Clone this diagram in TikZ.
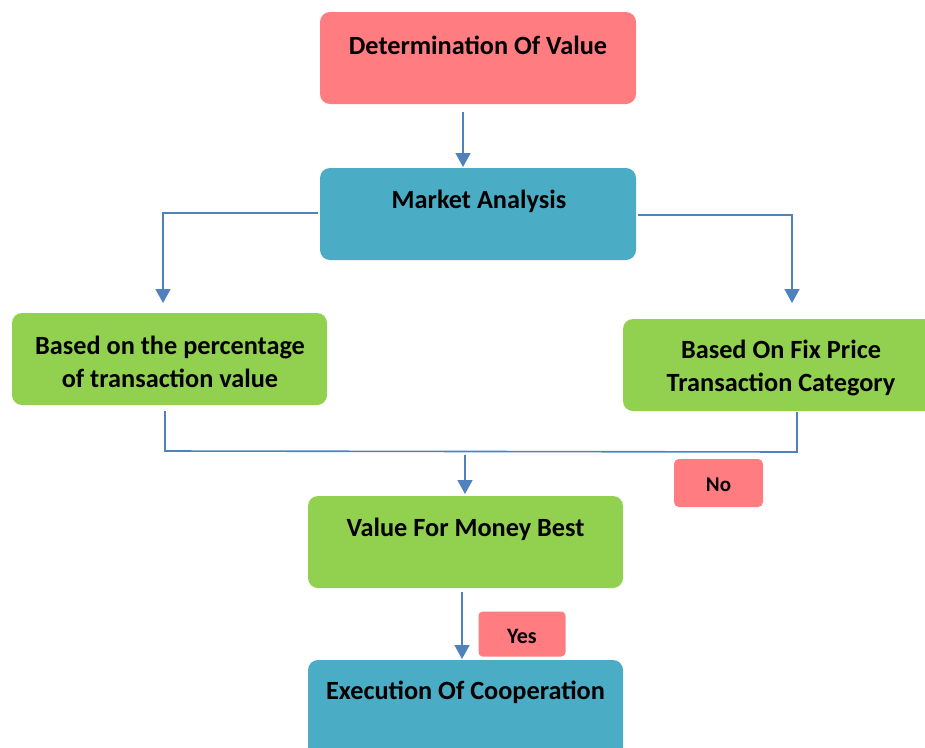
\documentclass[tikz,border=0pt]{standalone}
\usepackage{fontspec}
\setmainfont{Carlito}
\usetikzlibrary{arrows.meta}
\definecolor{salmon}{HTML}{FF7C80}
\definecolor{teal}{HTML}{4BACC6}
\definecolor{lgreen}{HTML}{92D050}
\definecolor{lblue}{HTML}{4F81BD}
\tikzset{
  box/.style={rectangle, rounded corners=10pt, draw=none, inner sep=0pt},
  txt/.style={font=\fontsize{26.3}{33}\selectfont\bfseries, text=black, align=center, inner sep=0pt},
  conn/.style={draw=lblue, line width=1.6pt},
  arr/.style={conn, -{Triangle[length=14pt,width=15pt]}}
}
\begin{document}
\begin{tikzpicture}[x=1pt,y=-1pt]
\useasboundingbox (0,0) rectangle (925,747);
% boxes
\node[box, fill=salmon, minimum width=316pt, minimum height=92pt] (dov) at (478,58) {};
\node[txt] (dovt) at (478,45) {Determination Of Value};
\node[box, fill=teal, minimum width=316pt, minimum height=92pt] (ma) at (478,214) {};
\node[txt] (mat) at (479,201) {Market Analysis};
\node[box, fill=lgreen, minimum width=315pt, minimum height=92pt] (pct) at (169.5,359) {};
\node[txt] (pctt) at (170,362) {Based on the percentage\\of transaction value};
\node[box, fill=lgreen, minimum width=320pt, minimum height=92pt] (fix) at (783,365) {};
\node[txt] (fixt) at (781,368) {Based On Fix Price\\Transaction Category};
\node[box, fill=lgreen, minimum width=315pt, minimum height=92pt] (vfm) at (465.5,542) {};
\node[txt] (vfmt) at (465.5,529) {Value For Money Best};
\node[box, fill=teal, minimum width=315pt, minimum height=110pt] (exe) at (465.5,715) {};
\node[txt] (exet) at (465.5,692) {Execution Of Cooperation};
\node[box, rounded corners=5pt, fill=salmon, minimum width=89pt, minimum height=48pt] (no) at (718.5,483) {};
\node[txt, font=\fontsize{21}{24}\selectfont\bfseries] (not) at (718.5,485) {No};
% connectors
\coordinate (a1) at (463,112);
\coordinate (a2) at (463,167);
\draw[arr] (a1) -- (a2);
\coordinate (l1) at (318,213);
\coordinate (l2) at (163,303);
\draw[arr] (l1) -| (l2);
\coordinate (r1) at (638,215);
\coordinate (r2) at (792,303);
\draw[arr] (r1) -| (r2);
\coordinate (b1) at (165,411);
\coordinate (b2) at (797,412);
\draw[conn] (b1) -- (165,451) -- (797,452) -- (b2);
\coordinate (m1) at (465,455);
\coordinate (m2) at (465,494);
\draw[arr] (m1) -- (m2);
\coordinate (e1) at (462,592);
\coordinate (e2) at (462,659);
\draw[arr] (e1) -- (e2);
\node[box, rounded corners=5pt, fill=salmon, draw=white, line width=3pt, minimum width=90pt, minimum height=48pt] (yes) at (522,634) {};
\node[txt, font=\fontsize{22}{24}\selectfont\bfseries] (yest) at (522,636) {Yes};
\end{tikzpicture}
\end{document}
